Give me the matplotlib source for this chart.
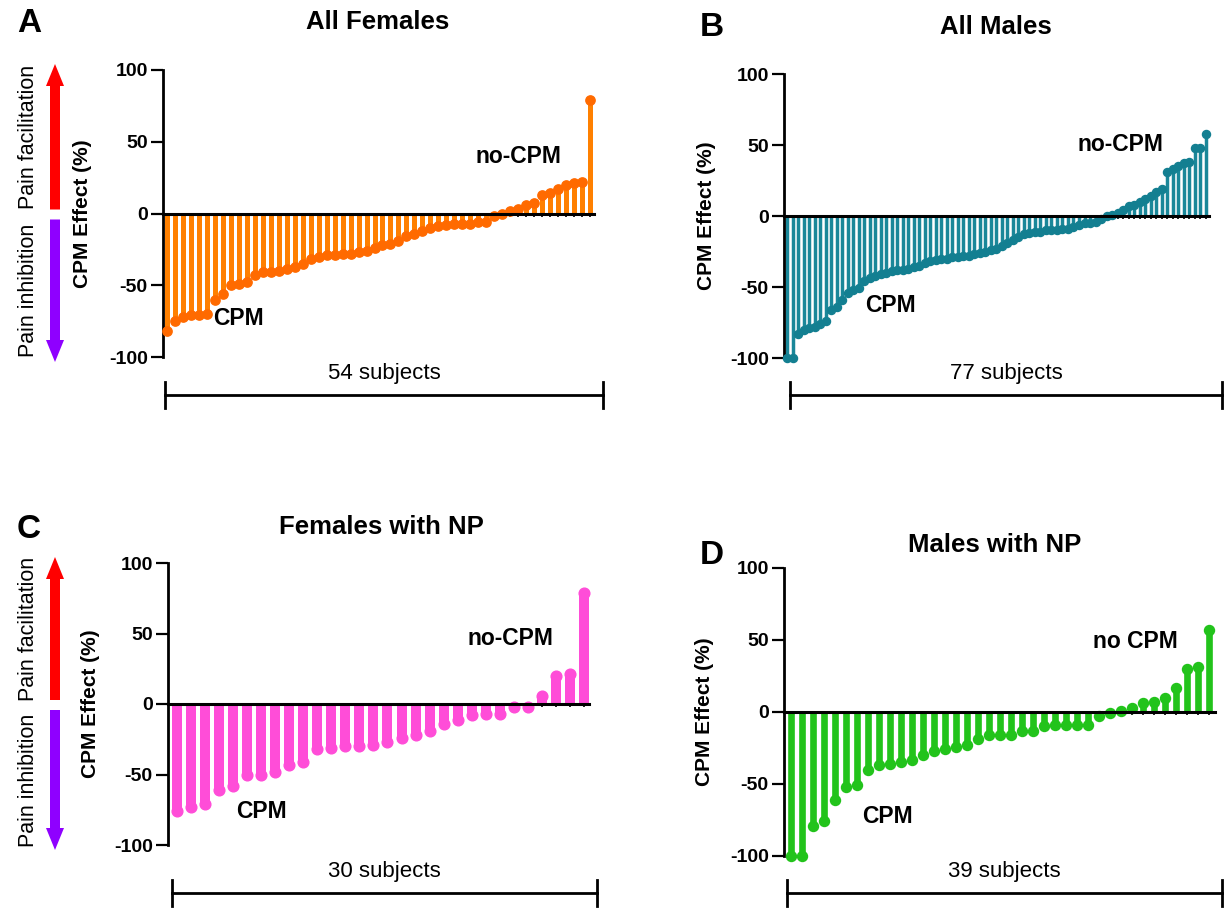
import numpy as np
import matplotlib
matplotlib.use("Agg")
import matplotlib.pyplot as plt
from matplotlib.patches import FancyArrow
from matplotlib.lines import Line2D

plt.rcParams['font.family'] = ['Liberation Sans', 'DejaVu Sans']

# データ（図から読み取った値, 昇順）
female_all = [-82, -75, -72, -71, -71, -70, -60, -56, -50, -49, -48, -43, -41, -41, -40, -39,
              -37, -35, -32, -30, -29, -29, -28, -28, -27, -26, -24, -22, -21, -19, -16, -14,
              -12, -10, -9, -8, -7, -7, -7, -6, -6, -2, 0, 2, 3, 6, 7, 13, 14, 17, 20, 21, 22, 79]
male_all = [-100, -100, -83, -80, -79, -78, -76, -74,
            -66, -64, -59, -54, -52, -51,
            -46, -44, -42, -41, -40, -39,
            -38, -38, -37, -36, -35, -33,
            -32, -31, -30, -30, -29, -29,
            -28, -28, -27, -26, -25, -24,
            -23, -21, -19, -17, -15, -13,
            -12, -11, -11, -10, -10, -10,
            -9, -9, -8, -6, -5, -5,
            -4, -2, 0, 1, 2, 4,
            7, 8, 10, 12, 14, 17, 19,
            31, 33, 35, 37, 38, 48, 48, 58]
female_np = [-76, -73, -71, -61, -58, -50, -50, -48, -43, -41, -32, -31, -30, -30, -29,
             -27, -24, -22, -19, -14, -11, -8, -7, -7, -2, -2, 6, 20, 21, 79]
male_np = [-100, -100, -79, -76, -61, -52, -51, -40, -37, -36, -35, -33, -30, -27, -26,
           -24, -23, -19, -16, -16, -16, -13, -13, -10, -9, -9, -9, -9, -3, -1, 1, 3,
           6, 7, 10, 17, 30, 31, 57]

titles = ["All Females", "All Males", "Females with NP", "Males with NP"]
letters = ["A", "B", "C", "D"]
subjects = ["54 subjects", "77 subjects", "30 subjects", "39 subjects"]
hi_labels = ["no-CPM", "no-CPM", "no-CPM", "no CPM"]
yticks = [-100, -50, 0, 50, 100]

W, H = 1227, 908
fig = plt.figure(figsize=(W / 100, H / 100), dpi=100)

def fx(x):
    return x / W

def fy(y):
    return 1 - y / H

# パネル設定 (ピクセル位置: left, right, top, bottom)
panels = [
    dict(data=female_all, color="#FF8000", mcolor="#FF6A00", box=(163, 594, 70, 357), xlim=(-0.5, 53.5),
         lw=3.6, ms=6.7, cpm=(5.8, -73), nocpm=(38.6, 40), title=(378, 22), letter=(17, 24),
         ylab=82, brk=(165, 603, 395), arrows=True),
    dict(data=male_all, color="#1A8799", mcolor="#137F91", box=(784, 1209, 74, 358), xlim=(-0.55, 76.6),
         lw=2.5, ms=5.8, cpm=(14.2, -63), nocpm=(52.8, 50.7), title=(996, 27), letter=(700, 27),
         ylab=706, brk=(790, 1222, 395), arrows=False),
    dict(data=female_np, color="#FF4DD8", mcolor="#FF4DD8", box=(168, 589, 563, 845), xlim=(-0.64, 29.36),
         lw=7.2, ms=7.7, cpm=(4.2, -76), nocpm=(20.7, 46.5), title=(381, 527), letter=(17, 530),
         ylab=91, brk=(172, 597, 893), arrows=True),
    dict(data=male_np, color="#22C31B", mcolor="#22C31B", box=(784, 1215, 568, 856), xlim=(-0.64, 38.55),
         lw=4.8, ms=7.2, cpm=(6.5, -72.6), nocpm=(27.5, 49), title=(995, 545), letter=(700, 555),
         ylab=704, brk=(787, 1222, 893), arrows=False),
]

for i, p in enumerate(panels):
    l, r, t, b = p["box"]
    ax = fig.add_axes([fx(l), fy(b), (r - l) / W, (b - t) / H])
    vals = np.array(p["data"])
    idx = np.arange(len(vals))
    ax.vlines(idx, 0, vals, color=p["color"], linewidth=p["lw"], zorder=2, clip_on=False)
    ax.plot(idx, vals, "o", color=p["mcolor"], markersize=p["ms"], zorder=3, clip_on=False)
    ax.set_xlim(*p["xlim"])
    ax.set_ylim(-100, 100)
    ax.set_yticks(yticks)
    ax.set_yticklabels([str(v) for v in yticks], fontsize=14, fontweight="bold")
    ax.tick_params(axis="y", length=9, width=1.6, pad=2)
    ax.spines["top"].set_visible(False)
    ax.spines["right"].set_visible(False)
    ax.spines["left"].set_linewidth(2)
    ax.spines["bottom"].set_position(("data", 0))
    ax.spines["bottom"].set_linewidth(2.2)
    ax.spines["bottom"].set_zorder(4)
    ax.set_xticks(idx)
    ax.set_xticklabels([])
    ax.tick_params(axis="x", length=2.5, width=1.2, direction="out")
    ax.patch.set_visible(False)

    ax.text(p["cpm"][0], p["cpm"][1], "CPM", fontsize=16.5, fontweight="bold",
            ha="left", va="center")
    ax.text(p["nocpm"][0], p["nocpm"][1], hi_labels[i], fontsize=16.5, fontweight="bold",
            ha="left", va="center")

    fig.text(fx(p["title"][0]), fy(p["title"][1]), titles[i], fontsize=18.5, fontweight="bold",
             ha="center", va="center")
    fig.text(fx(p["letter"][0]), fy(p["letter"][1]), letters[i], fontsize=24, fontweight="bold",
             ha="left", va="center")
    fig.text(fx(p["ylab"]), fy((t + b) / 2), "CPM Effect (%)", fontsize=15, fontweight="bold",
             rotation=90, ha="center", va="center")

    # 被験者数のブラケット
    bl, br, by = p["brk"]
    fig.add_artist(Line2D([fx(bl), fx(br)], [fy(by), fy(by)], color="black", lw=2,
                          transform=fig.transFigure))
    for xx in (bl, br):
        fig.add_artist(Line2D([fx(xx), fx(xx)], [fy(by - 13), fy(by + 13)], color="black", lw=2,
                              transform=fig.transFigure))
    fig.text(fx((bl + br) / 2), fy(by - 22), subjects[i], fontsize=16, ha="center", va="center")

    if p["arrows"]:
        mid = (t + b) / 2
        # 上向き (赤), 下向き (紫)
        up_base, up_tip = mid - 4, t - 6
        dn_top, dn_tip = mid + 6, b + 5
        fig.add_artist(FancyArrow(fx(55), fy(up_base), 0, fy(up_tip) - fy(up_base),
                                  width=10 / W, head_width=18 / W, head_length=22 / H,
                                  length_includes_head=True, color="#FF0000", lw=0,
                                  transform=fig.transFigure))
        fig.add_artist(FancyArrow(fx(55), fy(dn_top), 0, fy(dn_tip) - fy(dn_top),
                                  width=10 / W, head_width=18 / W, head_length=22 / H,
                                  length_includes_head=True, color="#8F00FF", lw=0,
                                  transform=fig.transFigure))
        fig.text(fx(28), fy((up_base + up_tip) / 2), "Pain facilitation", fontsize=15.5,
                 rotation=90, ha="center", va="center")
        fig.text(fx(28), fy((dn_top + dn_tip) / 2), "Pain inhibition", fontsize=15.5,
                 rotation=90, ha="center", va="center")

fig.savefig("out.png", dpi=100)
plt.close()
